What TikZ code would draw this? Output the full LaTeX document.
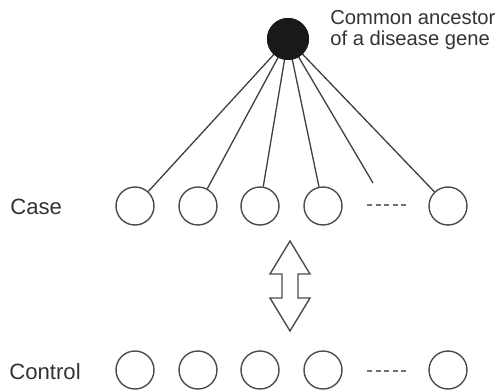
\documentclass[tikz,border=0pt]{standalone}
\usepackage{fontspec}
\setmainfont{Liberation Sans}
\usetikzlibrary{positioning}

\begin{document}
\begin{tikzpicture}[x=0.02cm, y=-0.02cm,
    indiv/.style={draw=black!70, line width=0.8pt, circle, minimum size=38*0.02cm, inner sep=0pt},
    founder/.style={circle, fill=black!90, minimum size=42*0.02cm, inner sep=0pt},
    link/.style={draw=black!75, line width=0.75pt},
    gap/.style={draw=black!55, line width=0.8pt, dash pattern=on 2.8pt off 2.1pt},
    rowlabel/.style={anchor=west, font=\fontsize{12.6}{14}\selectfont, text=black!80, inner sep=0pt}]
    \useasboundingbox (0,0) rectangle (497,389);

    % common ancestor
    \node[founder] (anc) at (288,39) {};
    \node[anchor=north west, align=left, inner sep=0pt, text=black!80,
          font=\fontsize{11.5}{11.8}\selectfont] (anclab) at (330,10)
        {Common ancestor\\of a disease gene};

    % case row
    \node[rowlabel] (case) at (10,207) {Case};
    \node[indiv] (c1) at (135,206) {};
    \node[indiv] (c2) at (198,206) {};
    \node[indiv] (c3) at (260,206) {};
    \node[indiv] (c4) at (323,206) {};
    \node[indiv] (c6) at (448,206) {};
    \coordinate (c5) at (373,183);
    \draw[gap] (367,205) -- (408,205);

    % lines of descent
    \foreach \n in {c1,c2,c3,c4,c6}
        \draw[link] (anc.center) -- (\n);
    \draw[link] (anc.center) -- (c5);
    \node[founder] at (anc) {};

    % comparison arrow
    \draw[black!70, line width=0.8pt, fill=white]
        (290,241) -- (310,274) -- (298,274) -- (298,298) -- (310,298)
        -- (290,331) -- (270,298) -- (282,298) -- (282,274) -- (270,274) -- cycle;

    % control row
    \node[rowlabel] (control) at (9,372) {Control};
    \node[indiv] (k1) at (135,370) {};
    \node[indiv] (k2) at (198,370) {};
    \node[indiv] (k3) at (260,370) {};
    \node[indiv] (k4) at (323,370) {};
    \node[indiv] (k6) at (448,370) {};
    \draw[gap] (367,371) -- (408,371);
\end{tikzpicture}
\end{document}
